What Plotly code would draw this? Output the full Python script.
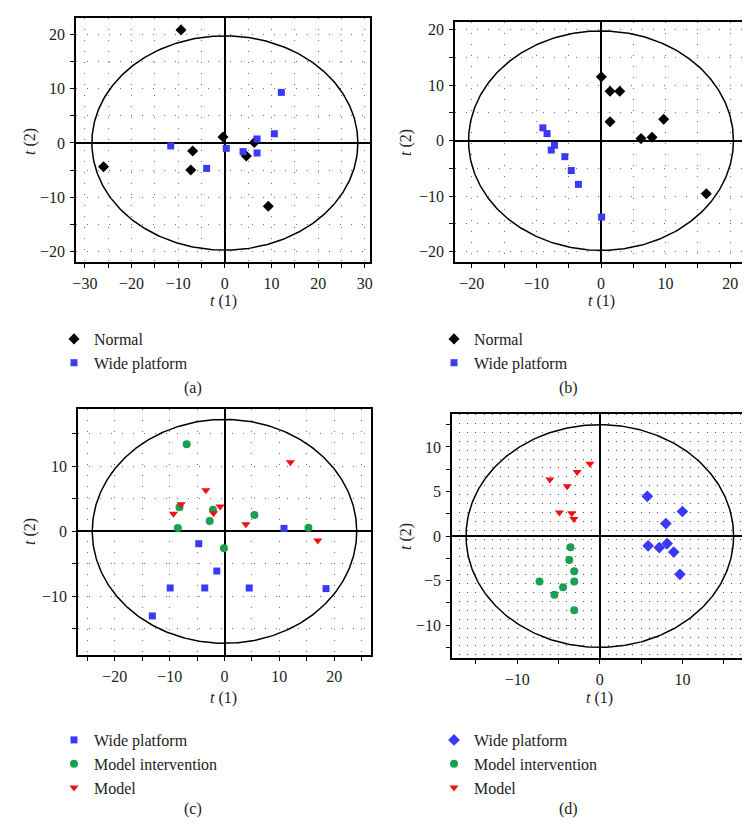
import numpy as np
import plotly.graph_objects as go

# ---------------- data ----------------
# (a)
a_normal_x = [-9.4, -26.0, -6.9, -7.3, -0.4, 4.6, 6.3, 9.3]
a_normal_y = [20.9, -4.4, -1.5, -5.0, 1.1, -2.4, 0.1, -11.7]
a_wide_x = [-11.6, -3.9, 0.3, 3.9, 6.9, 6.9, 10.6, 12.1]
a_wide_y = [-0.55, -4.7, -1.0, -1.6, 0.74, -1.85, 1.7, 9.35]
# (b)
b_normal_x = [0.05, 1.4, 2.9, 1.4, 6.2, 7.9, 9.7, 16.3]
b_normal_y = [11.5, 8.9, 8.9, 3.4, 0.36, 0.6, 3.85, -9.6]
b_wide_x = [-9.0, -8.35, -7.2, -7.7, -5.6, -4.6, -3.5, 0.1]
b_wide_y = [2.3, 1.26, -0.84, -1.7, -2.9, -5.4, -7.9, -13.8]
# (c)
c_wide_x = [-13.15, -9.9, -4.7, -3.6, -1.4, 4.5, 10.85, 18.5]
c_wide_y = [-13.0, -8.7, -1.9, -8.7, -6.1, -8.7, 0.46, -8.8]
c_inter_x = [-6.9, -8.2, -8.5, -2.1, -2.7, 5.45, 15.3, -0.1]
c_inter_y = [13.4, 3.7, 0.5, 3.3, 1.6, 2.5, 0.56, -2.6]
c_model_x = [-9.3, -7.9, -3.4, -2.0, -0.8, 3.9, 12.0, 17.0]
c_model_y = [2.7, 4.15, 6.3, 2.8, 3.8, 1.1, 10.6, -1.4]
# (d)
d_wide_x = [5.75, 10.0, 8.0, 5.85, 7.2, 8.15, 8.95, 9.7]
d_wide_y = [4.45, 2.75, 1.4, -1.1, -1.3, -0.85, -1.8, -4.3]
d_inter_x = [-3.55, -3.7, -3.1, -3.1, -7.3, -4.45, -5.5, -3.1]
d_inter_y = [-1.25, -2.7, -3.95, -5.1, -5.1, -5.75, -6.6, -8.35]
d_model_x = [-6.05, -2.75, -1.2, -3.95, -4.9, -3.4, -3.15]
d_model_y = [6.35, 7.2, 8.1, 5.6, 2.65, 2.55, 1.9]

# Hotelling ellipse radii (t1, t2) per panel
ellipse_a = [28.5, 19.8]
ellipse_b = [20.5, 19.8]
ellipse_c = [24.1, 17.2]
ellipse_d = [16.2, 12.5]

# tick values / labels
a_xticks = [-30, -25, -20, -15, -10, -5, 0, 5, 10, 15, 20, 25, 30]
a_xlabels = ["−30", "", "−20", "", "−10", "", "0", "", "10", "", "20", "", "30"]
a_yticks = [-20, -15, -10, -5, 0, 5, 10, 15, 20]
a_ylabels = ["−20", "", "−10", "", "0", "", "10", "", "20"]
b_xticks = [-20, -15, -10, -5, 0, 5, 10, 15, 20]
b_xlabels = ["−20", "", "−10", "", "0", "", "10", "", "20"]
b_yticks = a_yticks
b_ylabels = a_ylabels
c_xticks = [-25, -20, -15, -10, -5, 0, 5, 10, 15, 20, 25]
c_xlabels = ["", "−20", "", "−10", "", "0", "", "10", "", "20", ""]
c_yticks = [-15, -10, -5, 0, 5, 10, 15]
c_ylabels = ["", "−10", "", "0", "", "10", ""]
d_xticks = [-15, -10, -5, 0, 5, 10, 15]
d_xlabels = ["", "−10", "", "0", "", "10", ""]
d_yticks = [-12.5, -10, -7.5, -5, -2.5, 0, 2.5, 5, 7.5, 10, 12.5]
d_ylabels = ["", "−10", "", "−5", "", "0", "", "5", "", "10", ""]

# ---------------- style ----------------
W, H = 750, 834
FONT = "Liberation Serif"
BLUE = "#3a3af5"
GREEN = "#1a9e50"
RED = "#ee1111"
GRIDC = "#6e6e6e"

fig = go.Figure()

def fx(p):
    return p / W

def fy(p):
    return 1 - p / H

panels = [
    dict(key="", dom=(68, 362, 10, 254), xr=(-31.9, 31.1), yr=(-22.0, 23.1),
         xt=(a_xticks, a_xlabels), yt=(a_yticks, a_ylabels), ell=ellipse_a, fine=False),
    dict(key="2", dom=(447, 739, 14, 254), xr=(-22.6, 22.6), yr=(-21.9, 21.4),
         xt=(b_xticks, b_xlabels), yt=(b_yticks, b_ylabels), ell=ellipse_b, fine=False),
    dict(key="3", dom=(70, 363, 401, 647), xr=(-26.7, 26.7), yr=(-19.0, 18.8),
         xt=(c_xticks, c_xlabels), yt=(c_yticks, c_ylabels), ell=ellipse_c, fine=False),
    dict(key="4", dom=(444, 738, 406, 650), xr=(-17.9, 17.7), yr=(-13.7, 13.7),
         xt=(d_xticks, d_xlabels), yt=(d_yticks, d_ylabels), ell=ellipse_d, fine=True),
]

theta = np.linspace(0, 2 * np.pi, 361)
layout = {}
for p in panels:
    k = p["key"]
    x0, x1, y0, y1 = p["dom"]
    common = dict(
        showline=True, mirror=True, linecolor="black", linewidth=1.5,
        ticks="outside", ticklen=4, tickwidth=1.3, tickcolor="black",
        tickmode="array", automargin=False,
        zeroline=True, zerolinecolor="black", zerolinewidth=1.5,
        tickfont=dict(family=FONT, size=16, color="#222"),
        gridcolor=GRIDC, gridwidth=1, griddash="1px,10px",
        showgrid=not p["fine"],
    )
    xa = dict(common)
    ya = dict(common)
    if p["fine"]:
        # dense dot matrix: dotted vertical lines every unit, dot period ~ one y unit
        xa["minor"] = dict(tickmode="linear", tick0=0, dtick=1, showgrid=True,
                           gridcolor="#555555", gridwidth=1, griddash="1px,7.9px", ticks="")
    layout["xaxis" + k] = dict(xa, domain=[fx(x0), fx(x1)], range=list(p["xr"]),
                               tickvals=p["xt"][0], ticktext=p["xt"][1],
                               anchor="y" + k, ticklabelstandoff=2)
    layout["yaxis" + k] = dict(ya, domain=[fy(y1), fy(y0)], range=list(p["yr"]),
                               tickvals=p["yt"][0], ticktext=p["yt"][1],
                               anchor="x" + k, ticklabelstandoff=2)
    rx, ry = p["ell"]
    fig.add_trace(go.Scatter(x=rx * np.cos(theta), y=ry * np.sin(theta), mode="lines",
                             line=dict(color="black", width=1.5), showlegend=False,
                             hoverinfo="skip", xaxis="x" + k, yaxis="y" + k))

def add(x, y, name, sym, color, size, k, leg):
    fig.add_trace(go.Scatter(x=x, y=y, mode="markers", name=name,
                             marker=dict(symbol=sym, color=color, size=size, line=dict(width=0)),
                             xaxis="x" + k, yaxis="y" + k, legend=leg))

add(a_normal_x, a_normal_y, "Normal", "diamond", "black", 8.5, "", "legend")
add(a_wide_x, a_wide_y, "Wide platform", "square", BLUE, 7, "", "legend")
add(b_normal_x, b_normal_y, "Normal", "diamond", "black", 8.5, "2", "legend2")
add(b_wide_x, b_wide_y, "Wide platform", "square", BLUE, 7, "2", "legend2")
add(c_wide_x, c_wide_y, "Wide platform", "square", BLUE, 7, "3", "legend3")
add(c_inter_x, c_inter_y, "Model intervention", "circle", GREEN, 8, "3", "legend3")
add(c_model_x, c_model_y, "Model", "triangle-down", RED, 8, "3", "legend3")
add(d_wide_x, d_wide_y, "Wide platform", "diamond", BLUE, 9, "4", "legend4")
add(d_inter_x, d_inter_y, "Model intervention", "circle", GREEN, 8, "4", "legend4")
add(d_model_x, d_model_y, "Model", "triangle-down", RED, 8, "4", "legend4")

def leg(xp, yp):
    return dict(x=fx(xp), y=fy(yp), xanchor="left", yanchor="top",
                bgcolor="rgba(0,0,0,0)", borderwidth=0, tracegroupgap=0,
                font=dict(family=FONT, size=16, color="#222"), itemsizing="trace")

layout["legend"] = leg(46, 314)
layout["legend2"] = leg(426, 314)
layout["legend3"] = leg(46, 715)
layout["legend4"] = leg(426, 715)

ann = []
def text(xp, yp, t, angle=0):
    ann.append(dict(x=fx(xp), y=fy(yp), xref="paper", yref="paper", text=t,
                    showarrow=False, textangle=angle,
                    font=dict(family=FONT, size=16, color="#222"),
                    xanchor="center", yanchor="middle"))

text(215, 293, "<i>t</i> (1)")
text(593, 293, "<i>t</i> (1)")
text(216, 690, "<i>t</i> (1)")
text(591, 690, "<i>t</i> (1)")
text(22, 134, "<i>t</i> (2)", -90)
text(398, 134, "<i>t</i> (2)", -90)
text(22, 524, "<i>t</i> (2)", -90)
text(398, 528, "<i>t</i> (2)", -90)
text(185, 380, "(a)")
text(560, 380, "(b)")
text(185, 801, "(c)")
text(560, 801, "(d)")

fig.update_layout(width=W, height=H,
                  margin=dict(l=0, r=0, t=0, b=0, pad=0, autoexpand=False),
                  paper_bgcolor="white", plot_bgcolor="white",
                  font=dict(family=FONT, size=16, color="#222"),
                  annotations=ann, **layout)

fig.write_html("out.html")
